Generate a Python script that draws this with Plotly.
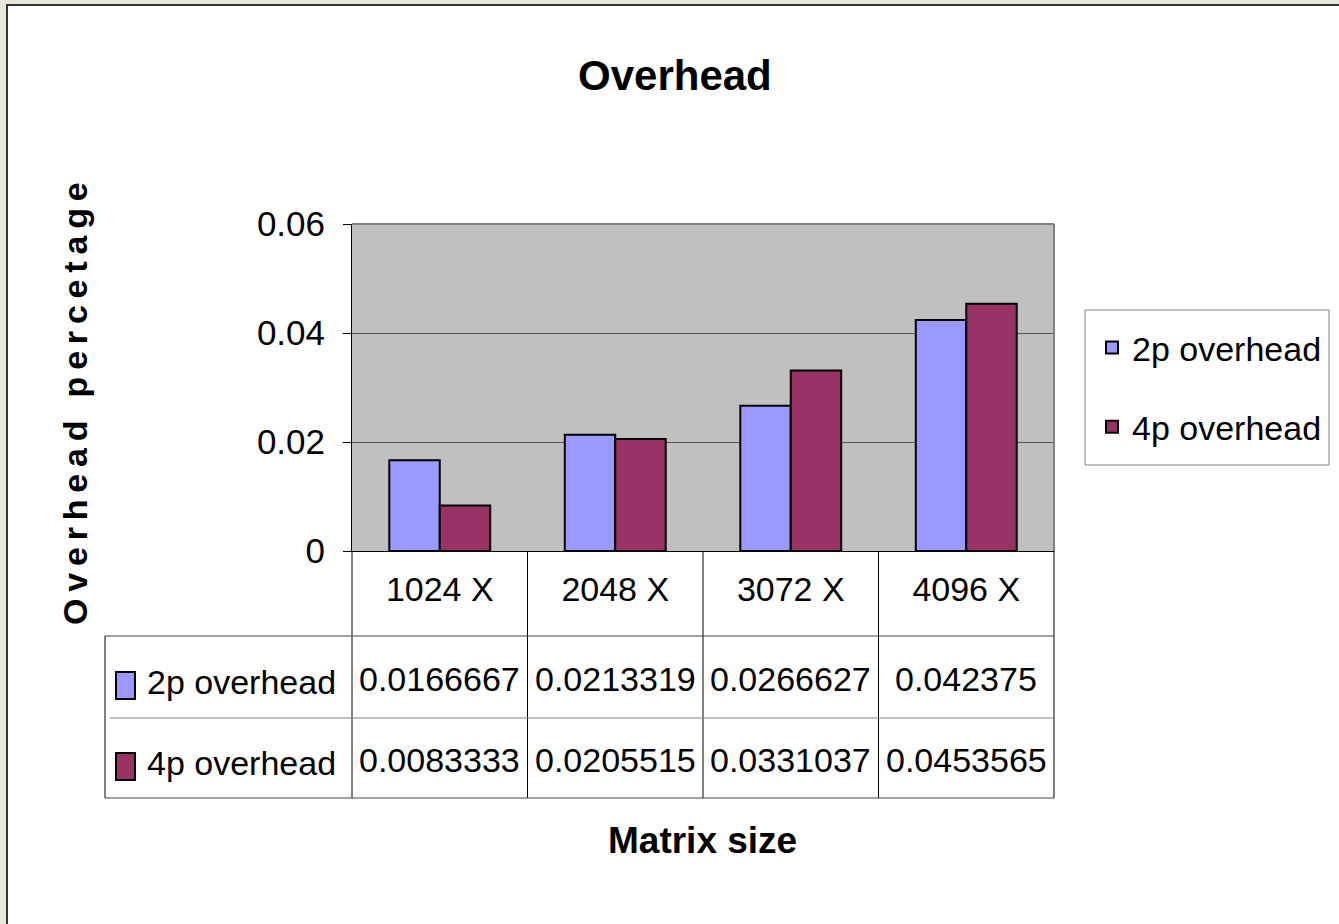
import plotly.graph_objects as go

categories = ["1024 X", "2048 X", "3072 X", "4096 X"]
series_names = ["2p overhead", "4p overhead"]
overhead_2p = [0.0166667, 0.0213319, 0.0266627, 0.042375]
overhead_4p = [0.0083333, 0.0205515, 0.0331037, 0.0453565]
y_ticks = [0, 0.02, 0.04, 0.06]
y_tick_labels = ["0", "0.02", "0.04", "0.06"]
colors = ["#9999FF", "#993366"]

W, H = 1339, 924
def px(x):
    return x / W
def py(y):
    return 1 - y / H

SANS = "Liberation Sans, Arial, sans-serif"

# plot area in pixels
X0, X1 = 352, 1054
Y0, Y1 = 224, 551

fig = go.Figure()
for name, vals, col in zip(series_names, [overhead_2p, overhead_4p], colors):
    fig.add_trace(go.Bar(
        x=categories, y=vals, name=name, legendgroup=name,
        marker=dict(color=col, line=dict(color="black", width=2)),
    ))

shapes = []
annotations = []

# white chart area with dark border
shapes.append(dict(type="rect", xref="paper", yref="paper",
                   x0=px(7), x1=px(W + 10), y0=py(H + 10), y1=py(5),
                   fillcolor="white", line=dict(color="#333333", width=2), layer="below"))
# gray plot area
shapes.append(dict(type="rect", xref="paper", yref="paper",
                   x0=px(X0), x1=px(X1), y0=py(Y1), y1=py(Y0),
                   fillcolor="#C0C0C0", line=dict(width=0), layer="below"))
# plot area top/right border
shapes.append(dict(type="line", xref="paper", yref="paper",
                   x0=px(X0), x1=px(X1), y0=py(Y0), y1=py(Y0),
                   line=dict(color="#808080", width=2)))
shapes.append(dict(type="line", xref="paper", yref="paper",
                   x0=px(X1), x1=px(X1), y0=py(Y0), y1=py(Y1),
                   line=dict(color="#808080", width=2)))
# legend box
shapes.append(dict(type="rect", xref="paper", yref="paper",
                   x0=px(1085), x1=px(1329), y0=py(465), y1=py(310),
                   fillcolor="white", line=dict(color="#808080", width=1), layer="below"))

# data table lines
col_edges = [X0 + (X1 - X0) * i / len(categories) for i in range(len(categories) + 1)]
T_LEFT = 105
ROW_Y = [Y1, 636, 718, 798]
for xe in col_edges:
    shapes.append(dict(type="line", xref="paper", yref="paper",
                       x0=px(xe), x1=px(xe), y0=py(Y1), y1=py(ROW_Y[3]),
                       line=dict(color="black", width=1)))
shapes.append(dict(type="line", xref="paper", yref="paper",
                   x0=px(T_LEFT), x1=px(T_LEFT), y0=py(ROW_Y[1]), y1=py(ROW_Y[3]),
                   line=dict(color="black", width=1)))
for i, yy in enumerate(ROW_Y[1:]):
    shapes.append(dict(type="line", xref="paper", yref="paper",
                       x0=px(T_LEFT if i != 1 else 110), x1=px(X1), y0=py(yy), y1=py(yy),
                       line=dict(color="#444444" if i != 1 else "#808080", width=1)))

row_centers = [679, 760]
for r, (name, vals, col) in enumerate(zip(series_names, [overhead_2p, overhead_4p], colors)):
    yc = row_centers[r]
    shapes.append(dict(type="rect", xref="paper", yref="paper",
                       x0=px(116), x1=px(135), y0=py(yc + 20), y1=py(yc - 7),
                       fillcolor=col, line=dict(color="black", width=2)))
    annotations.append(dict(x=px(145), y=py(yc + 3), xref="paper", yref="paper",
                            text=name, showarrow=False, xanchor="left", yanchor="middle",
                            font=dict(family=SANS, size=34, color="black")))
    for c, v in enumerate(vals):
        annotations.append(dict(x=px((col_edges[c] + col_edges[c + 1]) / 2), y=py(yc),
                                xref="paper", yref="paper", text=str(v), showarrow=False,
                                xanchor="center", yanchor="middle",
                                font=dict(family=SANS, size=34, color="black")))

# titles
annotations.append(dict(x=px(675), y=py(75), xref="paper", yref="paper",
                        text="<b>Overhead</b>", showarrow=False,
                        xanchor="center", yanchor="middle",
                        font=dict(family=SANS, size=42, color="black")))
annotations.append(dict(x=px(702), y=py(840), xref="paper", yref="paper",
                        text="<b>Matrix size</b>", showarrow=False,
                        xanchor="center", yanchor="middle",
                        font=dict(family=SANS, size=37, color="black")))
ytitle = "Overhead percetage"
spaced = "\u2009".join(ch for ch in ytitle)
annotations.append(dict(x=px(75), y=py(404), xref="paper", yref="paper",
                        text="<b>" + spaced + "</b>", showarrow=False, textangle=-90,
                        xanchor="center", yanchor="middle",
                        font=dict(family=SANS, size=34, color="black")))

fig.update_layout(
    width=W, height=H,
    margin=dict(l=0, r=0, t=0, b=0, autoexpand=False),
    paper_bgcolor="#E8E7D9",
    plot_bgcolor="#C0C0C0",
    barmode="group", bargap=0.425, bargroupgap=0,
    showlegend=True,
    legend=dict(x=px(1092), y=py(319), xanchor="left", yanchor="top",
                bgcolor="rgba(0,0,0,0)", borderwidth=0,
                font=dict(family=SANS, size=34, color="black"),
                tracegroupgap=32, traceorder="grouped"),
    xaxis=dict(domain=[px(X0), px(X1)], showgrid=False, showline=True,
               linecolor="black", linewidth=1, ticks="", ticklabelstandoff=8,
               tickfont=dict(family=SANS, size=34, color="black")),
    yaxis=dict(domain=[py(Y1), py(Y0)], range=[0, 0.06], tickvals=y_ticks,
               ticktext=y_tick_labels, showgrid=True, gridcolor="#555555", gridwidth=1,
               showline=True, linecolor="black", linewidth=1, ticks="outside",
               ticklen=8, tickcolor="black", ticklabelstandoff=11, zeroline=False,
               tickfont=dict(family=SANS, size=35, color="black")),
    shapes=shapes, annotations=annotations,
)

fig.write_html("out.html", config={"displayModeBar": False},
               post_script="document.body.style.margin='0';")
